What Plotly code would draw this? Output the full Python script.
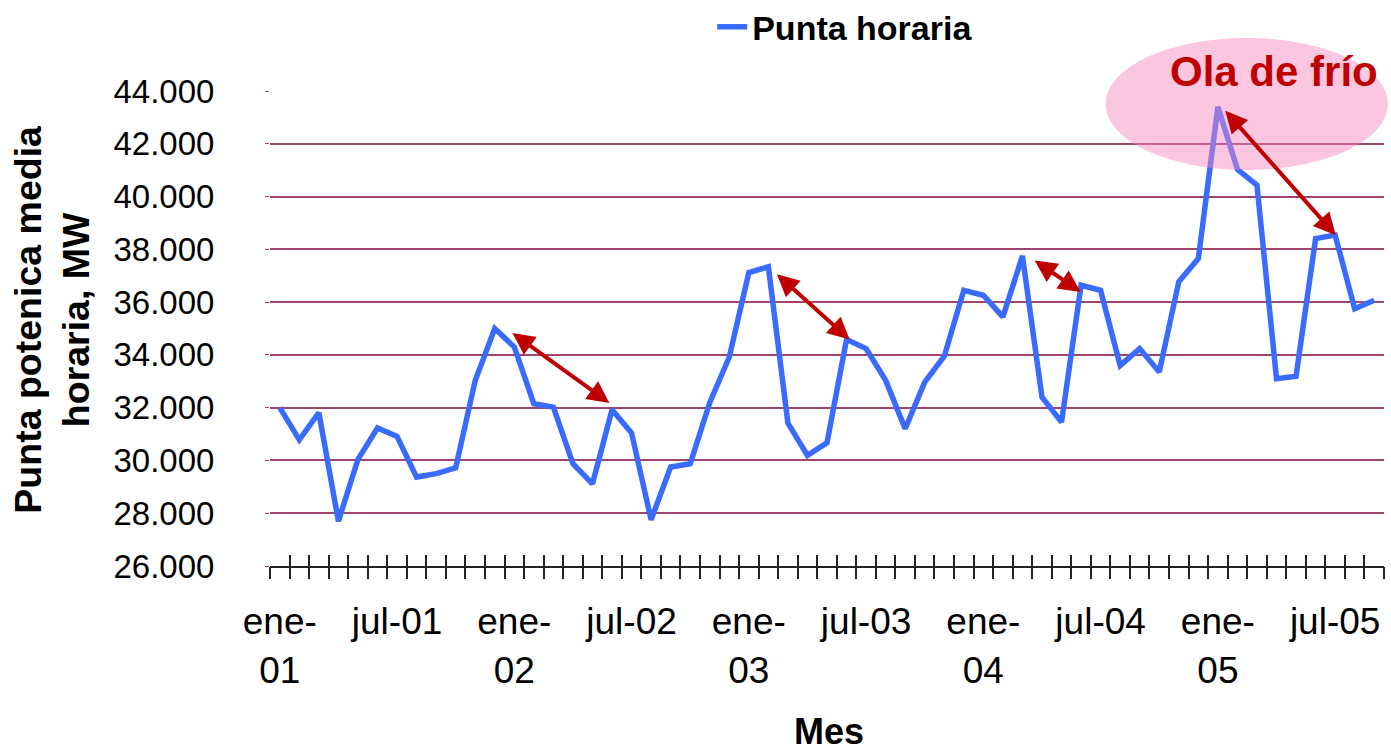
import plotly.graph_objects as go

months = ["ene", "feb", "mar", "abr", "may", "jun", "jul", "ago", "sep", "oct", "nov", "dic"]
years = ["01", "02", "03", "04", "05"]
categories = [f"{m}-{y}" for y in years for m in months][:57]

punta_horaria = [32000, 30780, 31810, 27700, 30040, 31230, 30910, 29370, 29500, 29720,
                 33030, 35000, 34300, 32150, 32020, 29875, 29115, 31920, 31040, 27750,
                 29750, 29875, 32190, 33920, 37120, 37335, 31415, 30190, 30670, 34580,
                 34240, 33035, 31200, 32970, 33950, 36450, 36260, 35440, 37750, 32400,
                 31450, 36640, 36450, 33600, 34240, 33350, 36770, 37650, 43400, 41030,
                 40430, 33100, 33190, 38410, 38540, 35750, 36070]

y_ticks = [26000, 28000, 30000, 32000, 34000, 36000, 38000, 40000, 42000, 44000]

# arrows: (x_head, y_head, x_tail, y_tail) in data units
arrows = [(16.87, 32174, 11.83, 34870),
          (29.16, 34580, 25.36, 37106),
          (40.98, 36385, 38.55, 37615),
          (54.03, 38537, 48.31, 43306)]

FONT = "Liberation Sans, Arial, sans-serif"
RED = "#C00000"
GRID = "#A3416F"

idx = list(range(len(categories)))
label_pos = [i for i, c in enumerate(categories) if c.startswith("ene") or c.startswith("jul")]
label_txt = [categories[i].replace("ene-", "ene-<br>") for i in label_pos]
boundaries = [i - 0.5 for i in range(len(categories) + 1)]

fig = go.Figure()
fig.add_trace(go.Scatter(x=idx, y=punta_horaria, mode="lines", name="Punta horaria",
                         line=dict(color="#3A6BFF", width=5.5), cliponaxis=False))
for ax in ["x2", "x3"]:
    fig.add_trace(go.Scatter(x=idx, y=punta_horaria, mode="lines", xaxis=ax, showlegend=False,
                             hoverinfo="skip", line=dict(color="rgba(0,0,0,0)", width=0)))

x_range = [-0.5, len(categories) - 0.5]
fig.update_layout(
    width=1391, height=753,
    margin=dict(l=270, r=7, t=91, b=187, autoexpand=False),
    paper_bgcolor="white", plot_bgcolor="white",
    separators=",.",
    font=dict(family=FONT, color="black"),
    showlegend=True,
    legend=dict(orientation="h", xref="container", yref="container", x=0.512, y=0.964,
                xanchor="left", yanchor="middle",
                font=dict(size=34, family=FONT, color="black", weight="bold"),
                bgcolor="rgba(0,0,0,0)"),
    xaxis=dict(range=x_range, tickmode="array", tickvals=label_pos, ticktext=label_txt,
               ticks="", showgrid=False, zeroline=False, showline=True, linecolor="#222",
               linewidth=2, tickfont=dict(size=37, family=FONT), ticklabelstandoff=22,
               automargin=False),
    xaxis2=dict(overlaying="x", matches="x", anchor="y", side="bottom", tickmode="array",
                tickvals=boundaries, ticks="outside", ticklen=12, tickwidth=2, tickcolor="#222",
                showticklabels=False, showgrid=False, zeroline=False, showline=False),
    xaxis3=dict(overlaying="x", matches="x", anchor="y", side="bottom", tickmode="array",
                tickvals=boundaries, ticks="inside", ticklen=11, tickwidth=2, tickcolor="#222",
                showticklabels=False, showgrid=False, zeroline=False, showline=False),
    yaxis=dict(range=[26000, 44000], tickmode="array", tickvals=y_ticks, tickformat=",d",
               showgrid=True, gridcolor=GRID, gridwidth=1.6, zeroline=False, showline=False,
               ticks="outside", ticklen=4, tickcolor=GRID, automargin=False,
               tickfont=dict(size=33, family=FONT), ticklabelstandoff=44),
)

# ellipse highlight
fig.add_shape(type="circle", xref="paper", yref="paper", x0=0.750, x1=1.0036, y0=0.8337, y1=1.1116,
              fillcolor="rgba(245,135,190,0.48)", line=dict(width=0), layer="above")

for xh, yh, xt, yt in arrows:
    fig.add_annotation(x=xh, y=yh, ax=xt, ay=yt, xref="x", yref="y", axref="x", ayref="y",
                       text="", showarrow=True, arrowhead=2, arrowside="end+start",
                       arrowsize=1.1, arrowwidth=4, arrowcolor=RED, standoff=0, startstandoff=0)

fig.add_annotation(x=0.9012, y=1.04, xref="paper", yref="paper", text="<b>Ola de frío</b>",
                   xanchor="center", yanchor="middle",
                   showarrow=False, font=dict(size=42, color=RED, family=FONT))
fig.add_annotation(x=0.5015, y=-0.349, xref="paper", yref="paper", text="<b>Mes</b>",
                   xanchor="center", yanchor="middle",
                   showarrow=False, font=dict(size=36, color="black", family=FONT))
fig.add_annotation(x=-0.196, y=0.52, xref="paper", yref="paper",
                   text="<b>Punta potenica media<br>horaria, MW</b>", textangle=-90,
                   xanchor="center", yanchor="middle",
                   showarrow=False, font=dict(size=37.5, color="black", family=FONT))

fig.write_html("out.html", config={"displayModeBar": False},
               post_script="document.body.style.margin='0px';")
